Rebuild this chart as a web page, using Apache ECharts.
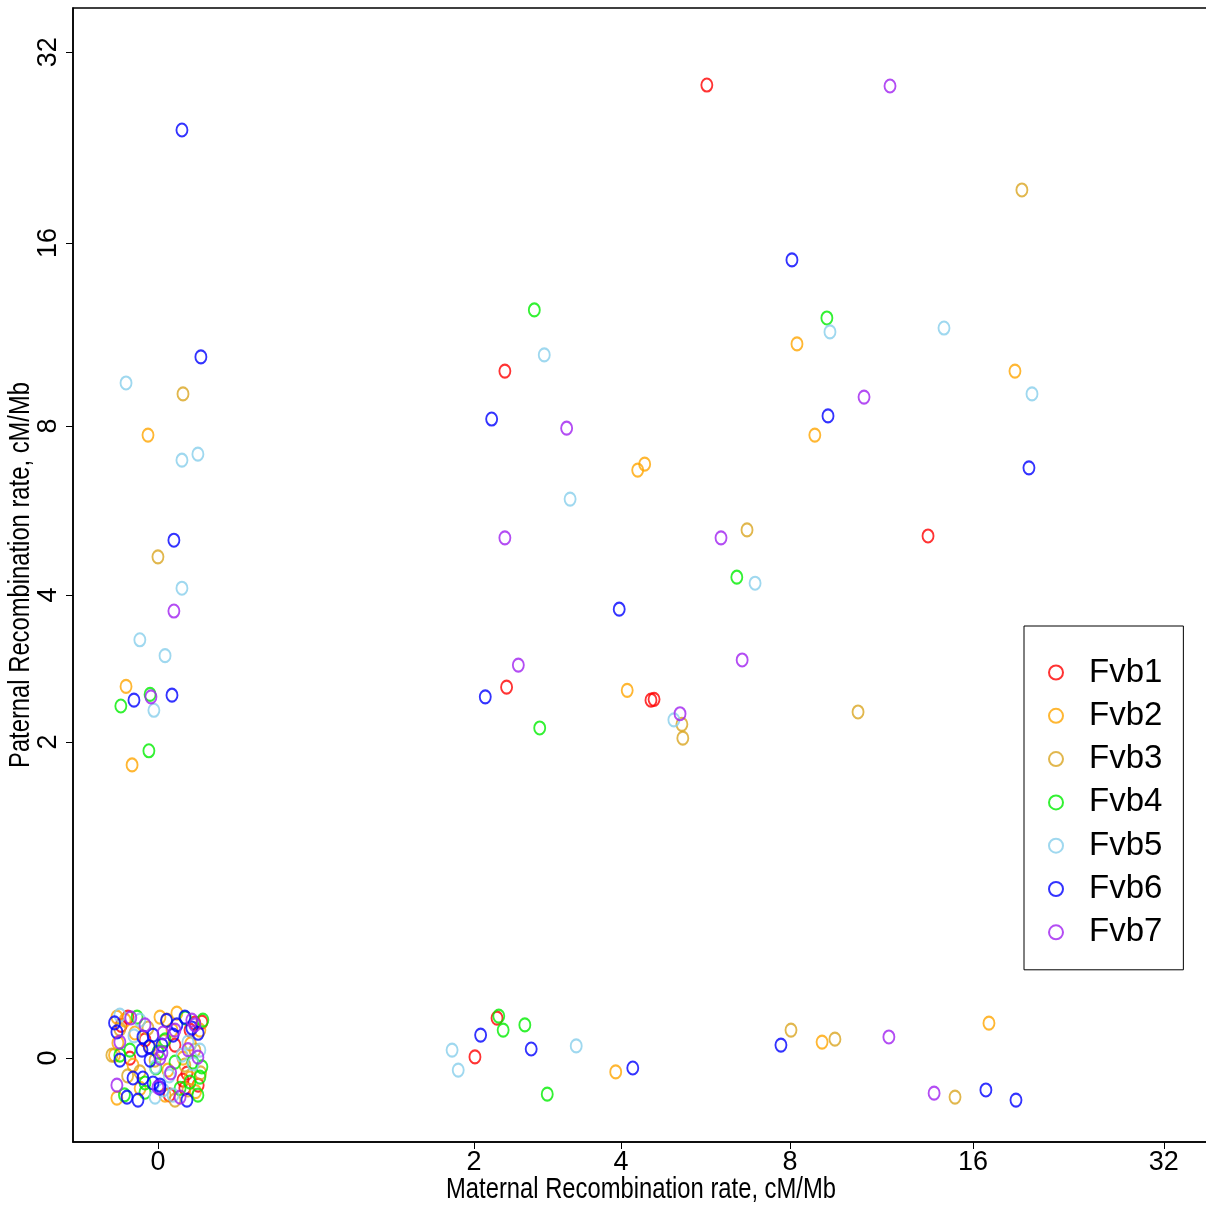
<!DOCTYPE html>
<html>
<head>
<meta charset="utf-8">
<title>Maternal vs paternal recombination rate</title>
<script src="https://cdn.jsdelivr.net/npm/echarts@6/dist/echarts.min.js"></script>
<style>
  html, body { margin: 0; padding: 0; background: #fff; }
  #chart { width: 1206px; height: 1205px; }
</style>
</head>
<body>
<div id="chart"></div>
<script>
// Recombination rates per window, [maternal, paternal] in cM/Mb.
// Windows with zero rate are spread slightly around 0 so they stay visible.
const chromosomes = ['Fvb1', 'Fvb2', 'Fvb3', 'Fvb4', 'Fvb5', 'Fvb6', 'Fvb7'];
const colors = ['#FF0000', '#FFA500', '#DAA520', '#00EE00', '#87CEEB', '#0000FF', '#A020F0'];
const tickLabels = [0, 2, 4, 8, 16, 32];
const xTitle = 'Maternal Recombination rate, cM/Mb';
const yTitle = 'Paternal Recombination rate, cM/Mb';

const fvb1 = [
  [5.74, 28.44], [2.34, 9.89], [2.36, 2.63], [4.55, 2.47], [4.61, 2.48], [13.54, 5.14],
  [2.01, 0.004], [2.25, 0.149],
  [-0.099, 0.153], [0.137, 0.129], [0.165, 0.133], [0.061, 0.046], [-0.093, 0.0],
  [0.098, -0.099], [0.091, -0.074], [-0.044, 0.065], [0.118, 0.102], [0.106, -0.051],
  [0.150, -0.090], [-0.120, 0.120], [0.040, -0.120]
];
const fvb2 = [
  [-0.034, 7.72], [-0.105, 2.64], [-0.086, 1.77], [4.30, 6.72], [4.43, 6.88], [4.11, 2.59],
  [8.22, 10.97], [8.81, 7.72], [18.67, 9.89], [3.91, -0.047], [9.06, 0.057], [16.97, 0.129],
  [-0.133, 0.153], [-0.108, 0.141], [0.007, 0.153], [0.068, 0.169], [-0.077, 0.091],
  [0.050, 0.102], [-0.083, -0.024], [0.035, -0.041], [-0.133, -0.130], [0.025, -0.121],
  [0.118, -0.067], [-0.027, 0.039], [0.157, 0.102], [0.091, 0.0], [-0.130, 0.054],
  [0.140, -0.110], [-0.060, -0.100], [0.120, 0.050], [-0.140, 0.010]
];
const fvb3 = [
  [0.091, 9.06], [0.0, 4.71], [6.75, 5.27], [10.40, 2.33], [19.15, 19.44], [5.18, 2.19],
  [5.20, 2.04], [8.03, 0.102], [9.52, 0.068], [14.97, -0.127],
  [0.032, 0.141], [-0.124, 0.106], [0.110, -0.105], [-0.061, -0.047], [0.137, 0.028],
  [-0.010, -0.007], [0.061, -0.136], [-0.148, 0.010], [0.098, -0.024], [-0.034, 0.110],
  [0.160, -0.050], [0.020, 0.060], [-0.100, -0.060]
];
const fvb4 = [
  [-0.121, 2.40], [-0.027, 2.54], [-0.031, 1.91], [2.70, 12.47], [2.77, 2.15], [9.23, 12.10],
  [6.48, 4.32], [2.27, 0.157], [2.32, 0.102], [2.58, 0.122], [2.87, -0.118],
  [-0.070, 0.153], [0.169, 0.141], [-0.124, 0.010], [-0.093, 0.028], [0.0, 0.021],
  [-0.007, -0.034], [0.061, -0.014], [0.129, -0.014], [0.157, -0.064], [-0.044, -0.083],
  [0.149, -0.121], [0.118, -0.080], [0.025, 0.065], [-0.044, -0.112],
  [0.100, 0.150], [-0.110, -0.120], [0.080, -0.100], [0.165, -0.030]
];
const fvb5 = [
  [-0.105, 9.45], [0.087, 6.99], [0.149, 7.16], [0.087, 4.12], [-0.061, 3.28], [0.025, 3.05],
  [-0.014, 2.35], [2.83, 10.52], [3.19, 5.98], [5.01, 2.24], [6.97, 4.21], [9.34, 11.48],
  [14.37, 11.65], [19.87, 9.06], [1.78, 0.028], [1.84, -0.041], [3.28, 0.043],
  [-0.124, 0.161], [0.110, 0.057], [-0.010, -0.031], [-0.010, -0.127], [0.054, -0.121],
  [0.087, 0.010], [0.018, -0.105], [0.157, 0.028], [-0.061, 0.141],
  [0.130, -0.020], [-0.080, 0.080], [0.040, -0.060]
];
const fvb6 = [
  [0.087, 24.18], [0.161, 10.44], [0.057, 5.05], [0.050, 2.53], [-0.080, 2.47], [2.19, 8.22],
  [2.12, 2.51], [3.97, 3.76], [8.06, 15.03], [9.27, 8.32], [19.65, 6.78], [2.07, 0.083],
  [2.66, 0.032], [4.21, -0.034], [7.72, 0.046], [16.78, -0.105], [18.74, -0.136],
  [0.098, 0.153], [-0.133, 0.095], [-0.051, 0.076], [-0.017, 0.083], [0.068, 0.122],
  [0.054, 0.083], [-0.124, -0.007], [-0.054, 0.028], [-0.027, -0.007], [-0.051, -0.067],
  [-0.017, -0.083], [0.007, -0.090], [-0.102, -0.127], [-0.067, -0.136], [0.106, -0.136],
  [0.007, -0.099], [0.125, 0.110], [-0.083, -0.067], [0.014, 0.046],
  [-0.140, 0.130], [0.030, 0.140], [0.150, 0.090], [-0.030, 0.040]
];
const fvb7 = [
  [11.74, 28.34], [3.14, 7.93], [2.34, 5.10], [6.08, 5.10], [10.64, 8.95], [2.50, 2.92],
  [6.62, 2.99], [5.14, 2.31], [0.057, 3.73], [-0.024, 2.51], [11.69, 0.076], [13.85, -0.115],
  [-0.044, 0.122], [0.125, 0.141], [0.137, 0.122], [-0.124, 0.057], [0.018, 0.091],
  [0.014, 0.018], [0.149, 0.003], [-0.133, -0.090], [0.0, -0.096], [0.080, -0.127],
  [0.061, 0.102], [0.007, 0.0],
  [0.110, 0.030], [-0.090, 0.150], [0.045, -0.050]
];
const seriesData = [fvb1, fvb2, fvb3, fvb4, fvb5, fvb6, fvb7];

// Both axes are drawn on a log2(rate + 1) scale.
const toAxis = v => Math.log2(v + 1);
const tickPositions = tickLabels.map(toAxis);
const labelFor = v => {
  const i = tickPositions.findIndex(p => Math.abs(p - v) < 1e-6);
  return i >= 0 ? String(tickLabels[i]) : '';
};

const sansFont = "'Liberation Sans', Arial, sans-serif";

const axisCommon = {
  type: 'value',
  axisLine: { show: true, onZero: false, lineStyle: { color: '#000', width: 1.5 } },
  axisTick: { show: true, length: 7, customValues: tickPositions, lineStyle: { color: '#000', width: 1 } },
  axisLabel: {
    customValues: tickPositions,
    formatter: labelFor,
    fontFamily: sansFont, fontSize: 27, color: '#000'
  },
  splitLine: { show: false }
};

// Axis titles in a condensed face: horizontally scaled text.
const titleStyle = (text) => ({
  text: text,
  font: "29px 'Liberation Sans', Arial, sans-serif",
  fill: '#000',
  textAlign: 'center',
  textVerticalAlign: 'middle'
});

const chart = echarts.init(document.getElementById('chart'), null, { renderer: 'canvas' });
chart.setOption({
  backgroundColor: '#fff',
  animation: false,
  grid: {
    left: 73, top: 8, right: -1, bottom: 63,
    containLabel: false, outerBoundsMode: 'none',
    show: true, borderColor: '#000', borderWidth: 1.5, backgroundColor: 'transparent'
  },
  xAxis: Object.assign({}, axisCommon, {
    min: -0.426, max: 5.261,
    axisLabel: Object.assign({}, axisCommon.axisLabel, { margin: 7 })
  }),
  yAxis: Object.assign({}, axisCommon, {
    min: -0.421, max: 5.266,
    axisLabel: Object.assign({}, axisCommon.axisLabel, { rotate: 90, margin: 11 })
  }),
  graphic: [
    { type: 'text', x: 641, y: 1190, scaleX: 0.82, style: titleStyle(xTitle), silent: true },
    { type: 'text', x: 21, y: 575, rotation: Math.PI / 2, scaleX: 0.82, style: titleStyle(yTitle), silent: true }
  ],
  legend: {
    orient: 'vertical',
    left: 1024, top: 626,
    padding: [30, 21, 21, 24],
    itemGap: 10.3,
    itemWidth: 14, itemHeight: 17,
    icon: 'circle',
    symbolKeepAspect: false,
    borderColor: '#000', borderWidth: 1, backgroundColor: '#fff',
    textStyle: { fontFamily: sansFont, fontSize: 33, color: '#000', padding: [0, 0, 0, 21] },
    data: chromosomes
  },
  series: chromosomes.map((name, i) => ({
    name: name,
    type: 'scatter',
    symbol: 'circle',
    symbolSize: [11, 13],
    silent: true,
    itemStyle: { color: 'transparent', borderColor: colors[i], borderWidth: 2 },
    data: seriesData[i].map(([m, p]) => [toAxis(m), toAxis(p)])
  }))
});
</script>
</body>
</html>
